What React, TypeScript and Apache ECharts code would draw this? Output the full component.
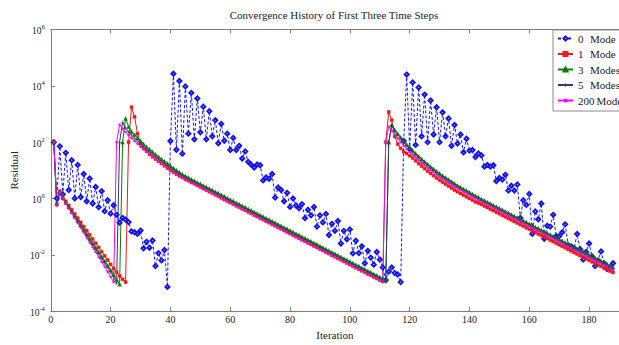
import React, { useEffect, useRef } from "react";
import * as echarts from "echarts";

// log10(residual) per iteration, iterations start at 1
const mode0Log10 = [
  2.0, 0.0, 1.85, 0.15, 1.62, 0.3, 1.36, 0.0, 1.19, 0.05,
  0.87, -0.1, 0.71, -0.18, 0.41, -0.31, 0.26, -0.45, -0.06, -0.54,
  -0.24, -0.58, -0.86, -0.69, -0.75, -0.84, -1.17, -1.2, -1.26, -1.14,
  -1.77, -1.54, -1.75, -1.49, -2.4, -1.94, -2.2, -1.83, -3.14, 2.04,
  4.43, 1.73, 4.17, 1.59, 3.98, 2.3, 3.75, 2.1, 3.55, 2.35,
  3.26, 2.1, 3.1, 2.21, 2.78, 1.96, 2.65, 2.05, 2.3, 1.72,
  2.15, 1.72, 1.87, 1.42, 1.67, 1.3, 1.2, 1.1, 1.21, 1.18,
  0.64, 0.75, 0.7, 0.87, 0.03, 0.39, 0.3, -0.1, 0.2, -0.3,
  0.0, -0.25, -0.35, -0.2, -0.7, -0.4, -0.6, -0.3, -1.0, -0.6,
  -0.85, -0.55, -1.3, -0.9, -1.15, -0.8, -1.6, -1.15, -1.45, -1.1,
  -1.95, -1.5, -1.94, -1.7, -2.3, -1.86, -2.1, -2.35, -1.9, -2.17,
  -2.45, -2.9, -2.6, -2.45, -2.65, -2.7, -2.97, 2.04, 4.4, 1.75,
  4.12, 1.9, 3.94, 2.21, 3.69, 2.0, 3.48, 2.27, 3.24, 2.0,
  3.06, 2.21, 2.84, 1.87, 2.61, 1.95, 2.27, 1.64, 2.12, 1.7,
  1.72, 1.47, 1.6, 1.53, 1.13, 1.19, 1.13, 1.18, 0.62, 0.73,
  0.67, 0.84, 0.28, 0.45, 0.28, 0.5, -0.69, -0.06, -0.23, 0.16,
  -1.26, -0.46, -0.74, -0.18, -1.43, -0.97, -1.0, -0.58, -1.34, -1.34,
  -1.2, -0.92, -1.66, -1.7, -1.77, -1.26, -1.8, -2.17, -1.9, -1.6,
  -2.06, -2.4, -2.2, -1.88, -2.3, -2.51, -2.45, -2.3,
];

const mode1Log10 = [
  2.0, -0.2, 0.26, 0.05, -0.1, -0.25, -0.4, -0.55, -0.7, -0.85,
  -1.0, -1.14, -1.29, -1.44, -1.59, -1.74, -1.89, -2.04, -2.19, -2.34,
  -2.49, -2.62, -2.75, -2.87, -2.97, 2.0, 3.24, 2.9, 2.3, 1.95,
  1.78, 1.68, 1.57, 1.48, 1.4, 1.32, 1.24, 1.16, 1.08, 1.0,
  0.93, 0.86, 0.8, 0.74, 0.68, 0.63, 0.57, 0.52, 0.46, 0.41,
  0.35, 0.3, 0.24, 0.19, 0.13, 0.08, 0.02, -0.04, -0.09, -0.15,
  -0.2, -0.26, -0.31, -0.37, -0.42, -0.48, -0.53, -0.59, -0.64, -0.7,
  -0.75, -0.81, -0.86, -0.92, -0.97, -1.03, -1.08, -1.14, -1.19, -1.25,
  -1.3, -1.36, -1.41, -1.47, -1.52, -1.58, -1.63, -1.69, -1.74, -1.8,
  -1.85, -1.91, -1.96, -2.02, -2.07, -2.13, -2.18, -2.24, -2.29, -2.35,
  -2.4, -2.46, -2.51, -2.57, -2.62, -2.68, -2.73, -2.79, -2.84, -2.9,
  -2.95, 2.0, 3.07, 2.78, 2.2, 1.93, 1.78, 1.66, 1.6, 1.52,
  1.44, 1.34, 1.24, 1.15, 1.06, 0.97, 0.89, 0.81, 0.73, 0.65,
  0.58, 0.51, 0.44, 0.37, 0.3, 0.24, 0.18, 0.12, 0.06, 0.0,
  -0.06, -0.12, -0.16, -0.21, -0.27, -0.32, -0.38, -0.43, -0.49, -0.54,
  -0.6, -0.65, -0.71, -0.76, -0.82, -0.87, -0.93, -0.98, -1.04, -1.09,
  -1.15, -1.2, -1.26, -1.31, -1.37, -1.42, -1.48, -1.53, -1.59, -1.64,
  -1.7, -1.75, -1.81, -1.86, -1.92, -1.97, -2.03, -2.08, -2.14, -2.19,
  -2.25, -2.3, -2.36, -2.41, -2.47, -2.52, -2.58, -2.63,
];

const mode3Log10 = [
  2.0, -0.2, 0.22, 0.02, -0.14, -0.3, -0.46, -0.62, -0.78, -0.94,
  -1.1, -1.26, -1.42, -1.58, -1.74, -1.9, -2.06, -2.22, -2.38, -2.54,
  -2.7, -2.88, -3.05, 2.0, 2.84, 2.55, 2.38, 2.26, 2.15, 2.05,
  1.94, 1.84, 1.75, 1.66, 1.57, 1.48, 1.4, 1.32, 1.24, 1.16,
  1.08, 1.0, 0.93, 0.86, 0.8, 0.74, 0.68, 0.63, 0.57, 0.52,
  0.46, 0.41, 0.35, 0.3, 0.24, 0.19, 0.13, 0.08, 0.02, -0.04,
  -0.09, -0.15, -0.2, -0.26, -0.31, -0.37, -0.42, -0.48, -0.53, -0.59,
  -0.64, -0.7, -0.75, -0.81, -0.86, -0.92, -0.97, -1.03, -1.08, -1.14,
  -1.19, -1.25, -1.3, -1.36, -1.41, -1.47, -1.52, -1.58, -1.63, -1.69,
  -1.74, -1.8, -1.85, -1.91, -1.96, -2.02, -2.07, -2.13, -2.18, -2.24,
  -2.29, -2.35, -2.4, -2.46, -2.51, -2.57, -2.62, -2.68, -2.73, -2.79,
  -2.84, -2.9, 2.0, 2.62, 2.44, 2.3, 2.17, 2.04, 1.92, 1.81,
  1.7, 1.6, 1.5, 1.4, 1.31, 1.22, 1.13, 1.05, 0.97, 0.89,
  0.81, 0.74, 0.67, 0.6, 0.53, 0.46, 0.4, 0.34, 0.28, 0.22,
  0.16, 0.1, 0.04, -0.02, -0.07, -0.13, -0.18, -0.24, -0.29, -0.35,
  -0.4, -0.46, -0.51, -0.57, -0.62, -0.68, -0.73, -0.79, -0.84, -0.9,
  -0.95, -1.01, -1.06, -1.12, -1.17, -1.23, -1.28, -1.34, -1.39, -1.45,
  -1.5, -1.56, -1.61, -1.67, -1.72, -1.78, -1.83, -1.89, -1.94, -2.0,
  -2.05, -2.11, -2.16, -2.22, -2.27, -2.33, -2.38, -2.44,
];

const mode5Log10 = [
  2.0, -0.25, 0.2, 0.0, -0.16, -0.33, -0.49, -0.65, -0.82, -0.98,
  -1.14, -1.31, -1.47, -1.63, -1.8, -1.96, -2.12, -2.29, -2.45, -2.61,
  -2.78, -3.02, 2.0, 2.7, 2.5, 2.36, 2.25, 2.14, 2.04, 1.94,
  1.84, 1.75, 1.66, 1.57, 1.48, 1.4, 1.32, 1.24, 1.16, 1.08,
  1.0, 0.93, 0.86, 0.8, 0.74, 0.68, 0.63, 0.57, 0.52, 0.46,
  0.41, 0.35, 0.3, 0.24, 0.19, 0.13, 0.08, 0.02, -0.04, -0.09,
  -0.15, -0.2, -0.26, -0.31, -0.37, -0.42, -0.48, -0.53, -0.59, -0.64,
  -0.7, -0.75, -0.81, -0.86, -0.92, -0.97, -1.03, -1.08, -1.14, -1.19,
  -1.25, -1.3, -1.36, -1.41, -1.47, -1.52, -1.58, -1.63, -1.69, -1.74,
  -1.8, -1.85, -1.91, -1.96, -2.02, -2.07, -2.13, -2.18, -2.24, -2.29,
  -2.35, -2.4, -2.46, -2.51, -2.57, -2.62, -2.68, -2.73, -2.79, -2.84,
  -2.9, -2.95, 2.0, 2.58, 2.4, 2.26, 2.13, 2.0, 1.88, 1.77,
  1.66, 1.56, 1.46, 1.36, 1.27, 1.18, 1.09, 1.01, 0.93, 0.85,
  0.77, 0.7, 0.63, 0.56, 0.49, 0.42, 0.36, 0.3, 0.24, 0.18,
  0.12, 0.06, 0.0, -0.06, -0.11, -0.17, -0.22, -0.28, -0.33, -0.39,
  -0.44, -0.5, -0.55, -0.61, -0.66, -0.72, -0.77, -0.83, -0.88, -0.94,
  -0.99, -1.05, -1.1, -1.16, -1.21, -1.27, -1.32, -1.38, -1.43, -1.49,
  -1.54, -1.6, -1.65, -1.71, -1.76, -1.82, -1.87, -1.93, -1.98, -2.04,
  -2.09, -2.15, -2.2, -2.26, -2.31, -2.37, -2.42, -2.48,
];

const mode200Log10 = [
  2.0, -0.25, 0.2, 0.0, -0.17, -0.35, -0.52, -0.7, -0.87, -1.04,
  -1.21, -1.39, -1.56, -1.73, -1.9, -2.08, -2.25, -2.42, -2.6, -2.78,
  -2.97, 2.0, 2.62, 2.48, 2.36, 2.25, 2.14, 2.04, 1.94, 1.84,
  1.75, 1.66, 1.57, 1.48, 1.4, 1.32, 1.24, 1.16, 1.08, 1.0,
  0.93, 0.86, 0.8, 0.74, 0.68, 0.63, 0.57, 0.52, 0.46, 0.41,
  0.35, 0.3, 0.24, 0.19, 0.13, 0.08, 0.02, -0.04, -0.09, -0.15,
  -0.2, -0.26, -0.31, -0.37, -0.42, -0.48, -0.53, -0.59, -0.64, -0.7,
  -0.75, -0.81, -0.86, -0.92, -0.97, -1.03, -1.08, -1.14, -1.19, -1.25,
  -1.3, -1.36, -1.41, -1.47, -1.52, -1.58, -1.63, -1.69, -1.74, -1.8,
  -1.85, -1.91, -1.96, -2.02, -2.07, -2.13, -2.18, -2.24, -2.29, -2.35,
  -2.4, -2.46, -2.51, -2.57, -2.62, -2.68, -2.73, -2.79, -2.84, -2.9,
  -2.95, 2.0, 2.55, 2.4, 2.26, 2.13, 2.0, 1.88, 1.77, 1.66,
  1.56, 1.46, 1.36, 1.27, 1.18, 1.09, 1.01, 0.93, 0.85, 0.77,
  0.7, 0.63, 0.56, 0.49, 0.42, 0.36, 0.3, 0.24, 0.18, 0.12,
  0.06, 0.0, -0.06, -0.11, -0.17, -0.22, -0.28, -0.33, -0.39, -0.44,
  -0.5, -0.55, -0.61, -0.66, -0.72, -0.77, -0.83, -0.88, -0.94, -0.99,
  -1.05, -1.1, -1.16, -1.21, -1.27, -1.32, -1.38, -1.43, -1.49, -1.54,
  -1.6, -1.65, -1.71, -1.76, -1.82, -1.87, -1.93, -1.98, -2.04, -2.09,
  -2.15, -2.2, -2.26, -2.31, -2.37, -2.42, -2.48, -2.53,
];

const seriesNames = ["0 Mode", "1 Mode", "3 Modes", "5 Modes", "200 Modes"];
const xMin = 0;
const xMax = 190;
const xInterval = 20;
const yExpMin = -4;
const yExpMax = 6;
const yExpInterval = 2;

const FONT = "'Liberation Serif', 'DejaVu Serif', serif";

const App: React.FC = () => {
  const ref = useRef<HTMLDivElement>(null);

  useEffect(() => {
    if (!ref.current) return;
    const chart = echarts.init(ref.current, undefined, { renderer: "svg" });
    const toData = (arr: number[]) => arr.map((v, k) => [k + 1, v]);

    const styles = [
      { data: mode0Log10, color: "#1414f0", symbol: "emptyDiamond", size: 4, dash: [3, 2] as any, bw: 0.9 },
      { data: mode1Log10, color: "#e81c1c", symbol: "rect", size: 3, dash: "solid" as any, bw: 0.5 },
      { data: mode3Log10, color: "#0a7a0a", symbol: "triangle", size: 4, dash: "solid" as any, bw: 0.3 },
      { data: mode5Log10, color: "#2e3f5e", symbol: "path://M0 4.4h10v1.2H0z M4.4 0h1.2v10H4.4z", size: 4, dash: "solid" as any, bw: 0 },
      { data: mode200Log10, color: "#ff00ff", symbol: "circle", size: 2.5, dash: "solid" as any, bw: 0 },
    ];

    const series = styles.map((s, k) => ({
      name: seriesNames[k],
      type: "line",
      data: toData(s.data),
      symbol: s.symbol,
      symbolSize: s.size,
      showSymbol: true,
      showAllSymbol: true,
      clip: true,
      lineStyle: { color: s.color, width: 1, type: s.dash },
      itemStyle: { color: s.color, borderColor: s.color, borderWidth: s.bw },
      emphasis: { disabled: true },
    }));

    const axisLineStyle = { color: "#7f7f7f", width: 1 };

    chart.setOption({
      animation: false,
      backgroundColor: "#ffffff",
      graphic: [
        {
          type: "text",
          x: 334,
          y: 15,
          style: {
            text: "Convergence History of First Three Time Steps",
            font: `11px ${FONT}`,
            fill: "#222",
            textAlign: "center",
            textVerticalAlign: "middle",
          },
        },
      ],
      grid: { left: 42.3, top: 29.5, width: 584.3, height: 291.2, show: false },
      legend: {
        data: seriesNames,
        orient: "vertical",
        left: 553,
        top: 30,
        itemWidth: 15,
        itemHeight: 5,
        itemGap: 4.5,
        padding: [3, 40, 5, 4],
        backgroundColor: "#ffffff",
        borderColor: "#8a8a8a",
        borderWidth: 1,
        borderRadius: 0,
        selectedMode: false,
        textStyle: {
          fontFamily: FONT,
          fontSize: 11,
          color: "#222",
          rich: {
            n: { width: 12, fontFamily: FONT, fontSize: 11, color: "#222" },
            w: { padding: [0, 2, 0, 0], fontFamily: FONT, fontSize: 11, color: "#222" },
            t: { fontFamily: FONT, fontSize: 11, color: "#222" },
          },
        },
        formatter: (name: string) => {
          const parts = name.split(" ");
          return parts[0].length > 1
            ? `{w|${parts[0]}}{t|${parts[1]}}`
            : `{n|${parts[0]}}{t|${parts[1]}}`;
        },
      },
      xAxis: [
        {
          type: "value",
          min: xMin,
          max: xMax,
          interval: xInterval,
          position: "bottom",
          name: "Iteration",
          nameLocation: "middle",
          nameGap: 13,
          nameTextStyle: { fontFamily: FONT, fontSize: 11, color: "#222" },
          axisLine: { show: true, onZero: false, lineStyle: axisLineStyle },
          axisTick: { show: true, inside: true, length: 4, lineStyle: axisLineStyle },
          axisLabel: { fontFamily: FONT, fontSize: 10, color: "#222", margin: 3, showMaxLabel: false },
          splitLine: { show: false },
        },
        {
          type: "value",
          min: xMin,
          max: xMax,
          interval: xInterval,
          position: "top",
          axisLine: { show: true, onZero: false, lineStyle: axisLineStyle },
          axisTick: { show: true, inside: true, length: 4, lineStyle: axisLineStyle },
          axisLabel: { show: false },
          splitLine: { show: false },
        },
      ],
      yAxis: {
        type: "value",
        min: yExpMin,
        max: yExpMax,
        interval: yExpInterval,
        name: "Residual",
        nameLocation: "middle",
        nameGap: 22,
        nameTextStyle: { fontFamily: FONT, fontSize: 11, color: "#222" },
        axisLine: { show: true, onZero: false, lineStyle: axisLineStyle },
        axisTick: { show: true, inside: true, length: 4, lineStyle: axisLineStyle },
        axisLabel: {
          margin: 6,
          formatter: (v: number) => `{b|10}{e|${v}}`,
          rich: {
            b: { fontFamily: FONT, fontSize: 9.5, color: "#222", verticalAlign: "bottom", lineHeight: 13 },
            e: { fontFamily: FONT, fontSize: 6.5, color: "#222", verticalAlign: "top", lineHeight: 7 },
          },
        },
        splitLine: { show: false },
      },
      series,
    });

    return () => chart.dispose();
  }, []);

  return (
    <div
      ref={ref}
      style={{ position: "fixed", left: 0, top: 0, width: 619, height: 345, background: "#fff" }}
    />
  );
};

export default App;
